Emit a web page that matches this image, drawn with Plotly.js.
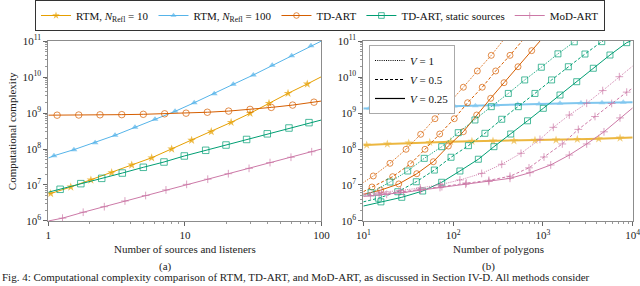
<!DOCTYPE html>
<html><head><meta charset="utf-8">
<script src="https://cdn.plot.ly/plotly-3.0.1.min.js"></script>
<style>html,body{margin:0;padding:0;background:#fff;}#chart{width:640px;height:286px;}</style>
</head><body><div id="chart"></div>
<script>
// ---------- DATA: panel (a), x = number of sources and listeners ----------
const a_rtm10_x  = [1, 1.04, 1.46, 2.05, 2.91, 4.08, 5.71, 8.0, 11.2, 15.6, 21.8, 30, 41.3, 56.9, 78.7, 100];
const a_rtm10_y  = [5.7e6, 5.8e6, 8.8e6, 1.38e7, 2.2e7, 3.6e7, 5.7e7, 1.0e8, 1.75e8, 3.03e8, 5.5e8, 9.8e8, 1.86e9, 3.52e9, 6.4e9, 1.02e10];
const a_rtm100_x = [1, 1.10, 1.54, 2.20, 3.08, 4.31, 6.04, 8.47, 11.7, 16.4, 22.6, 31.7, 43.6, 60.5, 83.8, 100];
const a_rtm100_y = [5.6e7, 6.5e7, 9.6e7, 1.5e8, 2.4e8, 4.0e8, 6.7e8, 1.11e9, 1.93e9, 3.44e9, 6.27e9, 1.14e10, 2.11e10, 3.9e10, 7.4e10, 1.0e11];
const a_td_x     = [1, 1.16, 1.67, 2.39, 3.45, 4.96, 7.11, 10.2, 14.6, 20.9, 30, 42.9, 61.5, 88.1, 100];
const a_td_y     = [8.7e8, 8.7e8, 8.8e8, 8.9e8, 9.0e8, 9.2e8, 9.5e8, 9.9e8, 1.05e9, 1.13e9, 1.26e9, 1.43e9, 1.66e9, 2.0e9, 2.15e9];
const a_st_x     = [1, 1.22, 1.73, 2.46, 3.48, 4.96, 7.03, 9.9, 14.2, 20, 28.3, 40.1, 57.8, 81, 100];
const a_st_y     = [6.3e6, 7.6e6, 1.09e7, 1.53e7, 2.15e7, 3.1e7, 4.35e7, 6.4e7, 9.2e7, 1.29e8, 1.84e8, 2.64e8, 3.83e8, 5.4e8, 6.4e8];
const a_mod_x    = [1, 1.27, 1.80, 2.57, 3.64, 5.16, 7.27, 10.3, 14.7, 20.8, 29.5, 42, 59.8, 84.8, 100];
const a_mod_y    = [1.0e6, 1.2e6, 1.75e6, 2.5e6, 3.6e6, 5.1e6, 7.3e6, 1.04e7, 1.45e7, 2.06e7, 2.9e7, 4.2e7, 5.9e7, 8.4e7, 1.0e8];

// ---------- DATA: panel (b), x = number of polygons ----------
const b_rtm10_x  = [10, 10.9, 18.5, 32, 54.9, 94, 162, 278, 476, 816, 1400, 2416, 4180, 7230, 10000];
const b_rtm10_y  = [1.29e8, 1.29e8, 1.38e8, 1.47e8, 1.53e8, 1.6e8, 1.64e8, 1.67e8, 1.7e8, 1.75e8, 1.78e8, 1.86e8, 1.93e8, 2.02e8, 2.1e8];
const b_rtm100_x = [10, 11.7, 20.2, 34.6, 60.2, 103, 177, 303, 524, 905, 1550, 2655, 4550, 7850, 10000];
const b_rtm100_y = [1.33e9, 1.35e9, 1.40e9, 1.44e9, 1.50e9, 1.56e9, 1.60e9, 1.67e9, 1.74e9, 1.78e9, 1.86e9, 1.9e9, 1.93e9, 1.98e9, 2.0e9];
// TD-ART, V = 1 / 0.5 / 0.25
const b_td1_x    = [10, 12.9, 19.8, 29.9, 43.5, 62.8, 90.7, 130, 186, 266, 356];
const b_td1_y    = [1.17e7, 1.78e7, 4.0e7, 9.8e7, 2.56e8, 6.95e8, 1.93e9, 5.2e9, 1.47e10, 4.0e10, 1.0e11];
const b_td05_x   = [10, 12.5, 21.2, 33.7, 48.6, 70.9, 103, 145, 211, 298, 430, 585];
const b_td05_y   = [6.5e6, 8.8e6, 1.7e7, 3.9e7, 9.8e7, 2.61e8, 6.95e8, 1.93e9, 5.2e9, 1.47e10, 4.0e10, 1.0e11];
const b_td025_x  = [10, 15.6, 24.8, 39.4, 60.2, 88.5, 130, 183, 262, 369, 528, 750, 929];
const b_td025_y  = [5.5e6, 7.2e6, 1.07e7, 2.06e7, 4.44e7, 1.21e8, 3.03e8, 8.8e8, 2.56e9, 6.95e9, 1.93e10, 5.4e10, 1.0e11];
// TD-ART static sources, V = 1 / 0.5 / 0.25
const b_st1_x    = [10, 12.2, 19.8, 31.2, 47.7, 74.6, 114, 175, 266, 412, 627, 960, 1470, 2236];
const b_st1_y    = [5.0e6, 6.1e6, 1.21e7, 2.45e7, 5.5e7, 1.16e8, 2.84e8, 6.4e8, 1.5e9, 3.5e9, 8.3e9, 1.87e10, 4.4e10, 9.5e10];
const b_st05_x   = [10, 14.7, 24.2, 38.9, 61.8, 94.8, 148, 226, 348, 532, 816, 1250, 1920, 2940, 4520, 4700];
const b_st05_y   = [3.4e6, 4.3e6, 6.5e6, 1.23e7, 2.6e7, 5.9e7, 1.24e8, 2.73e8, 6.7e8, 1.5e9, 3.5e9, 8.3e9, 1.93e10, 4.35e10, 9.6e10, 1.0e11];
const b_st025_x  = [10, 15.7, 26.8, 45.8, 74.6, 119, 191, 285, 438, 674, 1010, 1550, 2380, 3640, 5580, 8570, 9500];
const b_st025_y  = [2.6e6, 3.4e6, 4.55e6, 6.8e6, 1.19e7, 2.45e7, 5.2e7, 1.16e8, 2.61e8, 6.07e8, 1.35e9, 3.16e9, 7.4e9, 1.75e10, 4.08e10, 9.0e10, 1.0e11];
// MoD-ART, V = 1 / 0.5 / 0.25
const b_mod1_x   = [10, 16, 26, 43, 72, 119, 208, 348, 570, 927, 1306, 1967, 3073, 4633, 7095, 10000];
const b_mod1_y   = [5.8e6, 6.3e6, 7.0e6, 8.3e6, 1.02e7, 1.38e7, 2.1e7, 3.76e7, 7.6e7, 1.85e8, 4.0e8, 8.8e8, 1.86e9, 4.2e9, 1.02e10, 2.02e10];
const b_mod05_x  = [10, 15, 25, 43, 75, 140, 250, 430, 700, 1028, 1644, 2478, 3802, 5834, 8575, 10000];
const b_mod05_y  = [5.3e6, 5.7e6, 6.3e6, 7.5e6, 9.0e6, 1.14e7, 1.35e7, 1.75e7, 3.0e7, 6.0e7, 1.38e8, 3.5e8, 8.0e8, 1.84e9, 3.8e9, 4.9e9];
const b_mod025_x = [10, 12, 18.2, 28, 43.5, 71.4, 138, 250, 430, 718, 1222, 1967, 3073, 4790, 7220, 10000];
const b_mod025_y = [4.8e6, 5.0e6, 5.5e6, 6.2e6, 7.2e6, 8.5e6, 1.05e7, 1.25e7, 1.53e7, 2.2e7, 3.6e7, 6.8e7, 1.38e8, 3.0e8, 7.3e8, 1.39e9];

// ---------- labels ----------
const seriesNames = ['RTM, <i>N</i><sub>Refl</sub> = 10', 'RTM, <i>N</i><sub>Refl</sub> = 100', 'TD-ART', 'TD-ART, static sources', 'MoD-ART'];
const vNames = ['<i>V</i> = 1', '<i>V</i> = 0.5', '<i>V</i> = 0.25'];
const yTickVals = [1e6, 1e7, 1e8, 1e9, 1e10, 1e11];
const yTickText = ['10<sup>6</sup>', '10<sup>7</sup>', '10<sup>8</sup>', '10<sup>9</sup>', '10<sup>10</sup>', '10<sup>11</sup>'];
const xaTickVals = [1, 10, 100];
const xaTickText = ['1', '10', '100'];
const xbTickVals = [10, 100, 1000, 10000];
const xbTickText = ['10<sup>1</sup>', '10<sup>2</sup>', '10<sup>3</sup>', '10<sup>4</sup>'];
const keyX = [null], keyY = [null];   // legend-only entries for the line-style key

// ---------- styling ----------
const FONT = 'Liberation Serif, DejaVu Serif, serif';
const COL = {rtm10:'#E69F00', rtm100:'#56B4E9', td:'#D55E00', st:'#009E73', mod:'#CC79A7'};
const DOT = '1px,1.2px', DASH = '3px,2px';

// no marker at the ends of the axis range or at the clip edge
function msize(x, y, xmin, xmax, s) {
  return x.map((v, i) => (v <= xmin * 1.001 || v >= xmax * 0.999 || y[i] >= 0.999e11) ? 0 : s);
}
function sym(kind) {
  return {star:'star', tri:'triangle-up', circ:'circle-open', sq:'square-open', plus:'cross-thin-open'}[kind];
}
function trace(x, y, color, kind, size, panel, opt) {
  opt = opt || {};
  const xr = panel === 1 ? [1, 100] : [10, 1e4];
  const filled = (kind === 'star' || kind === 'tri');
  return {
    type:'scatter', mode:'lines+markers', x:x, y:y,
    xaxis: panel === 1 ? 'x' : 'x2', yaxis: panel === 1 ? 'y' : 'y2',
    name: opt.name || '', showlegend: !!opt.name, legend:'legend',
    opacity: opt.opacity || 1,
    line:{color:color, width: opt.width || 1, dash: opt.dash || 'solid'},
    marker:{symbol:sym(kind), size: msize(x, y, xr[0], xr[1], size), color:color,
            line:{color:color, width: filled ? 0 : 1}},
    cliponaxis:true, hoverinfo:'skip'
  };
}

const traces = [
  trace(a_rtm10_x, a_rtm10_y, COL.rtm10, 'star', 6.5, 1, {name:seriesNames[0]}),
  trace(a_rtm100_x, a_rtm100_y, COL.rtm100, 'tri', 6, 1, {name:seriesNames[1]}),
  trace(a_td_x, a_td_y, COL.td, 'circ', 6.5, 1, {name:seriesNames[2]}),
  trace(a_st_x, a_st_y, COL.st, 'sq', 6.5, 1, {name:seriesNames[3]}),
  trace(a_mod_x, a_mod_y, COL.mod, 'plus', 5.5, 1, {name:seriesNames[4]}),

  trace(b_rtm10_x, b_rtm10_y, COL.rtm10, 'star', 6.5, 2, {width:2, opacity:0.75}),
  trace(b_rtm100_x, b_rtm100_y, COL.rtm100, 'tri', 6, 2, {width:2, opacity:0.75}),
  trace(b_td1_x, b_td1_y, COL.td, 'circ', 6, 2, {dash:DOT}),
  trace(b_td05_x, b_td05_y, COL.td, 'circ', 6, 2, {dash:DASH}),
  trace(b_td025_x, b_td025_y, COL.td, 'circ', 6, 2, {}),
  trace(b_st1_x, b_st1_y, COL.st, 'sq', 6, 2, {dash:DOT}),
  trace(b_st05_x, b_st05_y, COL.st, 'sq', 6, 2, {dash:DASH}),
  trace(b_st025_x, b_st025_y, COL.st, 'sq', 6, 2, {}),
  trace(b_mod1_x, b_mod1_y, COL.mod, 'plus', 5.5, 2, {dash:DOT}),
  trace(b_mod05_x, b_mod05_y, COL.mod, 'plus', 5.5, 2, {dash:DASH}),
  trace(b_mod025_x, b_mod025_y, COL.mod, 'plus', 5.5, 2, {})
];
// line-style key for panel (b)
[DOT, DASH, 'solid'].forEach((d, i) => traces.push({
  type:'scatter', mode:'lines', x:keyX, y:keyY, xaxis:'x2', yaxis:'y2',
  name:vNames[i], legend:'legend2', showlegend:true, visible:true,
  line:{color:'#000', width:1.2, dash:d}, hoverinfo:'skip'
}));

const axBase = {
  type:'log', showgrid:false, zeroline:false, showline:true, mirror:true,
  linecolor:'#8c8c8c', linewidth:1, ticks:'outside', ticklen:4, tickcolor:'#666',
  tickfont:{family:FONT, size:11, color:'#222'}, tickmode:'array', ticklabeloverflow:'allow',
  minor:{ticks:'outside', ticklen:2, tickcolor:'#999', dtick:'D1', showgrid:false}
};
const yAx = Object.assign({}, axBase, {range:[6, 11], tickvals:yTickVals, ticktext:yTickText, domain:[0.2273, 0.8566]});

const layout = {
  width:640, height:286, margin:{l:0, r:0, t:0, b:0},
  paper_bgcolor:'#fff', plot_bgcolor:'#fff', showlegend:true,
  font:{family:FONT, size:11, color:'#222'},
  xaxis: Object.assign({}, axBase, {range:[0, 2], tickvals:xaTickVals, ticktext:xaTickText, domain:[0.0755, 0.5023], anchor:'y'}),
  yaxis: Object.assign({}, yAx, {anchor:'x'}),
  xaxis2: Object.assign({}, axBase, {range:[1, 4], tickvals:xbTickVals, ticktext:xbTickText, domain:[0.5677, 0.9886], anchor:'y2'}),
  yaxis2: Object.assign({}, yAx, {anchor:'x2'}),
  legend:{orientation:'h', x:0.5, xanchor:'center', y:1, yanchor:'top',
          bordercolor:'#333', borderwidth:1, bgcolor:'#fff',
          font:{family:FONT, size:11, color:'#111'}, itemwidth:30, tracegroupgap:0},
  legend2:{orientation:'v', x:0.5766, xanchor:'left', y:0.8427, yanchor:'top', visible:true,
           bordercolor:'#aaa', borderwidth:1, bgcolor:'#fff',
           font:{family:FONT, size:11, color:'#111'}, itemwidth:30, tracegroupgap:0},
  annotations:[
    {text:'Computational complexity', xref:'paper', yref:'paper', x:0.019, y:0.542, textangle:-90,
     showarrow:false, xanchor:'center', yanchor:'middle', font:{family:FONT, size:11, color:'#222'}},
    {text:'Number of sources and listeners', xref:'paper', yref:'paper', x:0.2886, y:0.129,
     showarrow:false, xanchor:'center', yanchor:'middle', font:{family:FONT, size:11, color:'#222'}},
    {text:'(a)', xref:'paper', yref:'paper', x:0.259, y:0.0699,
     showarrow:false, xanchor:'center', yanchor:'middle', font:{family:FONT, size:11, color:'#222'}},
    {text:'Number of polygons', xref:'paper', yref:'paper', x:0.7786, y:0.129,
     showarrow:false, xanchor:'center', yanchor:'middle', font:{family:FONT, size:11, color:'#222'}},
    {text:'(b)', xref:'paper', yref:'paper', x:0.764, y:0.0699,
     showarrow:false, xanchor:'center', yanchor:'middle', font:{family:FONT, size:11, color:'#222'}},
    {text:'Fig. 4: Computational complexity comparison of RTM, TD-ART, and MoD-ART, as discussed in Section IV-D. All methods consider',
     xref:'paper', yref:'paper', x:0, y:0.002, showarrow:false, xanchor:'left', yanchor:'bottom',
     font:{family:FONT, size:11, color:'#222'}}
  ]
};

Plotly.newPlot('chart', traces, layout, {staticPlot:true, displayModeBar:false});
</script>
</body></html>
